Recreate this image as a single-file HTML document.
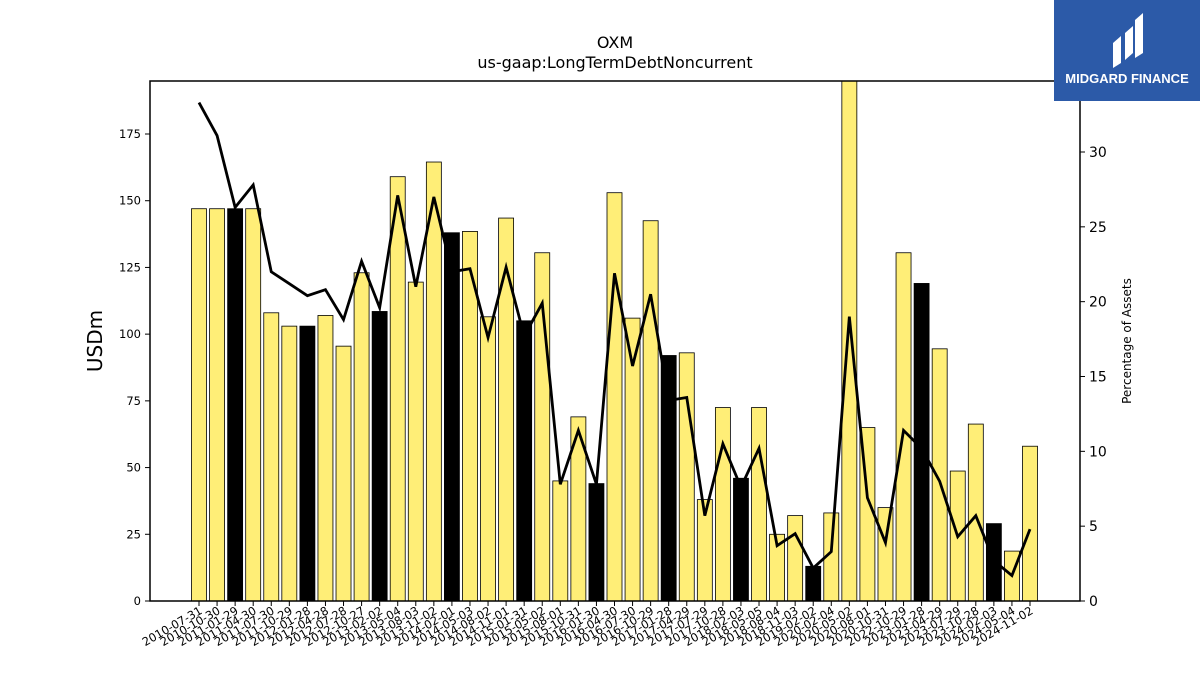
<!DOCTYPE html>
<html><head><meta charset="utf-8"><style>
body{margin:0;background:#fff;font-family:"Liberation Sans","DejaVu Sans",sans-serif}
#wrap{position:relative;width:1200px;height:675px;overflow:hidden}
</style></head><body><div id="wrap">
<svg id="chart" width="1200" height="675" font-family="DejaVu Sans, Liberation Sans, sans-serif"></svg>
<div style="position:absolute;left:1054px;top:0;width:146px;height:101px;background:#2c5aa8;color:#fff;text-align:center">
<svg width="60" height="62" viewBox="0 0 60 62" style="margin-top:8px"><path d="M16 60 V35 L24 28 V55 Z M28 52 V25 L36 18 V45 Z M38 50 V12 L46 5 V45 Z" fill="#fff"/></svg>
<div style="font-size:13px;font-weight:bold;margin-top:-4px">MIDGARD FINANCE</div></div>
</div>
<script>
const categories=["2010-07-31","2010-10-30","2011-01-29","2011-04-30","2011-07-30","2011-10-29","2012-01-28","2012-04-28","2012-07-28","2012-10-27","2013-02-02","2013-05-04","2013-08-03","2013-11-02","2014-02-01","2014-05-03","2014-08-02","2014-11-01","2015-01-31","2015-05-02","2015-08-01","2015-10-31","2016-01-30","2016-04-30","2016-07-30","2016-10-29","2017-01-28","2017-04-29","2017-07-29","2017-10-28","2018-02-03","2018-05-05","2018-08-04","2018-11-03","2019-02-02","2020-02-04","2020-05-02","2020-08-01","2020-10-31","2022-10-29","2023-01-28","2023-04-29","2023-07-29","2023-10-28","2024-02-03","2024-05-04","2024-11-02"];
const debtValues=[147,147,147,147,108,103,103,107,95.5,123,108.5,159,119.5,164.5,138,138.5,106.5,143.5,105,130.5,45,69,44,153,106,142.5,92,93,38,72.5,46,72.5,25,32,13,33,196,65,35,130.5,119,94.5,48.7,66.3,29,18.7,58];
const highlighted=[0,0,1,0,0,0,1,0,0,0,1,0,0,0,1,0,0,0,1,0,0,0,1,0,0,0,1,0,0,0,1,0,0,0,1,0,0,0,0,0,1,0,0,0,1,0,0];
const pctValues=[33.3,31.1,26.3,27.8,22.0,21.2,20.4,20.8,18.8,22.7,19.6,27.1,21.0,27.0,22.0,22.2,17.6,22.3,17.7,19.9,7.8,11.4,7.8,21.9,15.7,20.5,13.4,13.6,5.7,10.5,7.6,10.2,3.7,4.5,2.2,3.3,19.0,6.9,3.9,11.4,10.2,8.0,4.3,5.7,2.7,1.7,4.8];
const leftTicks=[0,25,50,75,100,125,150,175];
const rightTicks=[0,5,10,15,20,25,30];
const NS="http://www.w3.org/2000/svg",svg=document.getElementById('chart');
const L=150,R=1080,T=81,B=601;
const x0=199,step=(1030-199)/46;
function xS(i){return x0+i*step}
function yL(v){return B-v*(175/467>0?467/175:1)*1}
function yLeft(v){return Math.max(T,B-v*(B-134)/175)}
function yRight(v){return B-v*(B-152)/30}
function mk(t,a,p){const e=document.createElementNS(NS,t);for(const k in a)e.setAttribute(k,a[k]);(p||svg).appendChild(e);return e}
categories.forEach((c,i)=>{const y=yLeft(debtValues[i]);
const b=mk('rect',{x:xS(i)-7.5,y:y,width:15,height:B-y,fill:highlighted[i]?'#000':'#ffee77',stroke:'#000','stroke-width':0.8});


mk('line',{x1:xS(i),x2:xS(i),y1:B,y2:B+5,stroke:'#000'});
const t=mk('text',{x:xS(i)+4,y:B+12,'font-size':11.5,'text-anchor':'end',transform:`rotate(-30 ${xS(i)+4} ${B+12})`});t.textContent=c;

});
const pts=pctValues.map((v,i)=>xS(i)+','+yRight(v)).join(' ');
const ln=mk('polyline',{points:pts,fill:'none',stroke:'#000','stroke-width':2.8});


mk('rect',{x:L,y:T,width:R-L,height:B-T,fill:'none',stroke:'#000','stroke-width':1.5});
leftTicks.forEach(v=>{const y=yLeft(v);mk('line',{x1:L-5,x2:L,y1:y,y2:y,stroke:'#000'});
const t=mk('text',{x:L-9,y:y+4,'font-size':11.5,'text-anchor':'end'});t.textContent=v;

});
rightTicks.forEach(v=>{const y=yRight(v);mk('line',{x1:R,x2:R+5,y1:y,y2:y,stroke:'#000'});
const t=mk('text',{x:R+9,y:y+5,'font-size':14});t.textContent=v;

});
let t=mk('text',{x:615,y:48,'font-size':16,'text-anchor':'middle'});t.textContent='OXM';

t=mk('text',{x:615,y:68,'font-size':16,'text-anchor':'middle'});t.textContent='us-gaap:LongTermDebtNoncurrent';

t=mk('text',{x:102,y:341,'font-size':20,'text-anchor':'middle',transform:'rotate(-90 102 341)'});t.textContent='USDm';

t=mk('text',{x:1131,y:341,'font-size':12,'text-anchor':'middle',transform:'rotate(-90 1131 341)'});t.textContent='Percentage of Assets';

</script></body></html>
